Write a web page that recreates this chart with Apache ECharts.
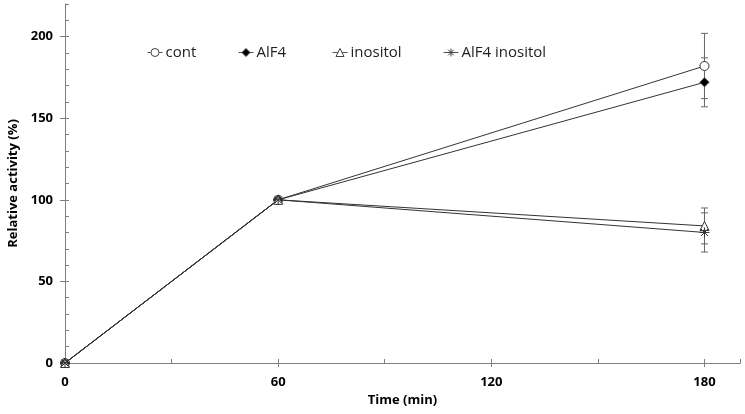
<!DOCTYPE html>
<html>
<head>
<meta charset="utf-8">
<script src="https://cdn.jsdelivr.net/npm/echarts@6/dist/echarts.min.js"></script>
<style>
  html, body { margin: 0; padding: 0; background: #fff; }
  #chart { width: 745px; height: 414px; }
</style>
</head>
<body>
<div id="chart"></div>
<script>
    // data
    var times = [0, 60, 180];
    var seriesNames = ['cont', 'AlF4', 'inositol', 'AlF4 inositol'];
    var cont = [0, 100, 182];
    var alf4 = [0, 100, 172];
    var inositol = [0, 100, 84];
    var alf4Inositol = [0, 100, 80];
    // error (+/-) at each time point
    var contErr = [0, 0, 20];
    var alf4Err = [0, 0, 15];
    var inositolErr = [0, 0, 11];
    var alf4InositolErr = [0, 0, 12];
    var xTicks = [0, 60, 120, 180];
    var yTicks = [0, 50, 100, 150, 200];

    var lineColor = '#333';
    var axisColor = '#7f7f7f';
    var starPath = 'path://M0,5L10,5M5,0L5,10M1.5,1.5L8.5,8.5M8.5,1.5L1.5,8.5';

    var symbols = ['circle', 'diamond', 'triangle', starPath];
    var fills = ['#fff', '#000', '#fff', '#fff'];
    var legendLeft = [142, 233, 327, 438];

    function pairs(vals) {
        return vals.map(function(v, i) { return [times[i], v]; });
    }

    function errData(vals, errs) {
        var out = [];
        vals.forEach(function(v, i) {
            if (errs[i] > 0) out.push([times[i], v - errs[i], v + errs[i]]);
        });
        return out;
    }

    function errSeries(vals, errs) {
        return {
            type: 'custom',
            xAxisIndex: 0,
            yAxisIndex: 0,
            silent: true,
            z: 1,
            data: errData(vals, errs),
            renderItem: function(params, api) {
                var lo = api.coord([api.value(0), api.value(1)]);
                var hi = api.coord([api.value(0), api.value(2)]);
                var w = 3.5;
                var st = { stroke: '#666', lineWidth: 1 };
                return {
                    type: 'group',
                    children: [
                        { type: 'line', shape: { x1: lo[0], y1: lo[1], x2: hi[0], y2: hi[1] }, style: st },
                        { type: 'line', shape: { x1: lo[0] - w, y1: lo[1], x2: lo[0] + w, y2: lo[1] }, style: st },
                        { type: 'line', shape: { x1: hi[0] - w, y1: hi[1], x2: hi[0] + w, y2: hi[1] }, style: st }
                    ]
                };
            }
        };
    }

    function lineSeries(name, vals, idx, size) {
        return {
            name: name,
            type: 'line',
            xAxisIndex: 0,
            yAxisIndex: 0,
            data: pairs(vals),
            symbol: symbols[idx],
            symbolSize: size,
            showAllSymbol: true,
            z: 3,
            lineStyle: { color: lineColor, width: 1 },
            itemStyle: { color: fills[idx], borderColor: lineColor, borderWidth: 1 },
            emphasis: { disabled: true }
        };
    }

    // one legend per item so each can be placed where the figure has it
    var legends = seriesNames.map(function(name, i) {
        return {
            data: [name],
            left: legendLeft[i],
            top: 40,
            itemWidth: 15,
            itemHeight: 10,
            selectedMode: false,
            lineStyle: { width: 1, color: '#555' },
            itemStyle: { borderWidth: 1, borderColor: '#444' },
            textStyle: { color: '#222', fontSize: 15, fontFamily: 'Open Sans', padding: [0, 0, 0, -2] }
        };
    });

    var chart = echarts.init(document.getElementById('chart'));
    var labelFont = { color: '#000', fontWeight: 'bold', fontSize: 13, fontFamily: 'Open Sans' };

    chart.setOption({
        backgroundColor: '#fff',
        animation: false,
        grid: { left: 65, right: 5, top: 4, bottom: 51, outerBoundsMode: 'none', containLabel: false },
        legend: legends,
        xAxis: [{
            type: 'value',
            min: 0,
            max: 190,
            interval: 60,
            name: 'Time (min)',
            nameLocation: 'middle',
            nameGap: 30,
            nameTextStyle: labelFont,
            axisLine: { lineStyle: { color: axisColor } },
            axisTick: { inside: false, length: 4, lineStyle: { color: axisColor } },
            axisLabel: Object.assign({ margin: 13, showMaxLabel: false,
                formatter: function(v) { return xTicks.indexOf(v) >= 0 ? v : ''; } }, labelFont),
            splitLine: { show: false }
        }, {
            type: 'value',
            min: 0,
            max: 190,
            interval: 30,
            position: 'bottom',
            axisLine: { lineStyle: { color: axisColor } },
            axisTick: { inside: true, length: 4, lineStyle: { color: axisColor } },
            axisLabel: { show: false },
            splitLine: { show: false }
        }],
        yAxis: [{
            type: 'value',
            min: 0,
            max: 220,
            interval: 50,
            name: 'Relative activity (%)',
            nameLocation: 'middle',
            nameGap: 44,
            nameTextStyle: labelFont,
            axisLine: { show: true, lineStyle: { color: axisColor } },
            axisTick: { show: true, inside: false, length: 5, lineStyle: { color: axisColor } },
            axisLabel: Object.assign({ margin: 12, showMaxLabel: false,
                formatter: function(v) { return yTicks.indexOf(v) >= 0 ? v : ''; } }, labelFont),
            splitLine: { show: false }
        }, {
            type: 'value',
            min: 0,
            max: 220,
            interval: 10,
            position: 'left',
            axisLine: { show: true, lineStyle: { color: axisColor } },
            axisTick: { show: true, inside: true, length: 4, lineStyle: { color: axisColor } },
            axisLabel: { show: false },
            splitLine: { show: false }
        }],
        series: [
            errSeries(cont, contErr),
            errSeries(alf4, alf4Err),
            errSeries(inositol, inositolErr),
            errSeries(alf4Inositol, alf4InositolErr),
            lineSeries('cont', cont, 0, 9),
            lineSeries('AlF4', alf4, 1, 9),
            lineSeries('inositol', inositol, 2, 9),
            lineSeries('AlF4 inositol', alf4Inositol, 3, 10)
        ]
    });
</script>
</body>
</html>
